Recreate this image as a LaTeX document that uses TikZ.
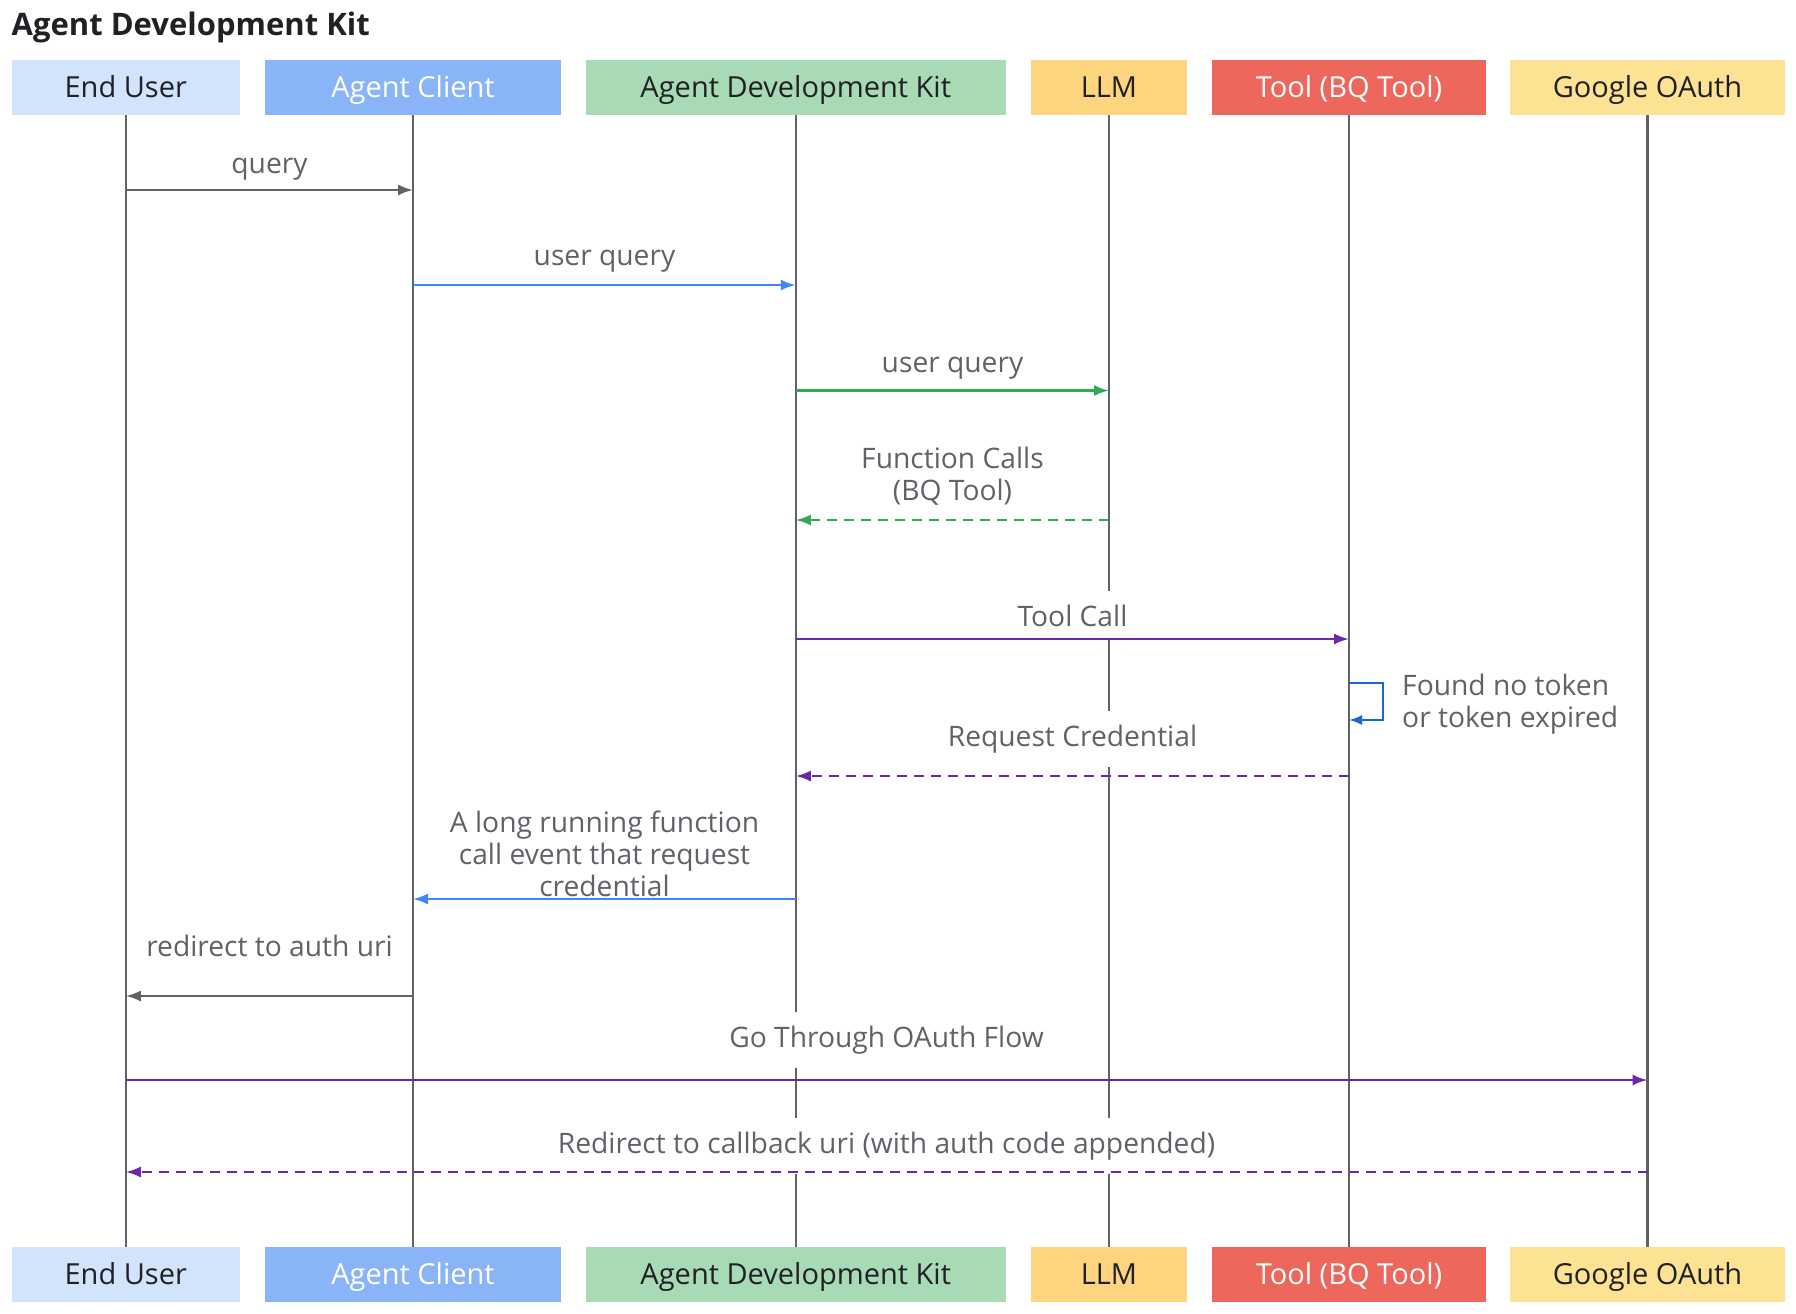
\documentclass[tikz,border=0pt]{standalone}
\usepackage{fontspec}
\setmainfont{Open Sans}
\usetikzlibrary{arrows.meta}

\definecolor{euFill}{HTML}{D2E3FC}
\definecolor{acFill}{HTML}{8AB4F8}
\definecolor{adkFill}{HTML}{A8DAB5}
\definecolor{llmFill}{HTML}{FDD57E}
\definecolor{toolFill}{HTML}{EE675C}
\definecolor{oaFill}{HTML}{FDE293}
\definecolor{lineGray}{HTML}{5F6368}
\definecolor{darkText}{HTML}{202124}
\definecolor{msgBlue}{HTML}{4285F4}
\definecolor{loopBlue}{HTML}{1967D2}
\definecolor{msgGreen}{HTML}{34A853}
\definecolor{msgPurple}{HTML}{6D28A8}

\tikzset{
    actor/.style={minimum height=55pt, inner sep=0pt, text height=21pt, text depth=2pt,
        font=\fontsize{29}{32}\selectfont},
    lifeline/.style={lineGray, line width=2.2pt},
    msg/.style={line width=2.3pt, -{Latex[length=15pt,width=11pt]}},
    reply/.style={msg, dash pattern=on 10pt off 7pt},
    lbl/.style={fill=white, anchor=base, inner xsep=4pt, inner ysep=14pt, text=lineGray,
        font=\fontsize{28.2}{32}\selectfont},
    note/.style={inner sep=0pt, align=center, anchor=north, text=lineGray,
        font=\fontsize{28.2}{32}\selectfont},
}

\begin{document}
\begin{tikzpicture}[x=1pt, y=-1pt]

    \path[fill=white, use as bounding box] (0,0) rectangle (1796,1314);

    % Title
    \node[anchor=base west, inner sep=0pt, text=darkText, font=\bfseries\fontsize{31}{36}\selectfont]
        (title) at (11.5,36) {Agent Development Kit};

    % Participants, top and bottom, with lifelines
    \foreach \id/\cx/\w/\fc/\tc/\txt in {
        eu/125.75/228.5/euFill/darkText/End User,
        ac/413/296/acFill/white/Agent Client,
        adk/795.75/420.5/adkFill/darkText/Agent Development Kit,
        llm/1109/156/llmFill/darkText/LLM,
        tool/1349/274/toolFill/white/Tool (BQ Tool),
        oa/1647.5/275/oaFill/darkText/Google OAuth} {
        \node[actor, fill=\fc, text=\tc, minimum width=\w pt] (\id-top) at (\cx,87.5) {\txt};
        \node[actor, fill=\fc, text=\tc, minimum width=\w pt] (\id-bot) at (\cx,1274.5) {\txt};
        \draw[lifeline] (\id-top.south) -- (\id-bot.north);
    }

    % Message rows
    \coordinate (m1) at (0,190);
    \coordinate (m2) at (0,285);
    \coordinate (m3) at (0,390.5);
    \coordinate (m4) at (0,520);
    \coordinate (m5) at (0,639);
    \coordinate (m6) at (0,776);
    \coordinate (m7) at (0,899);
    \coordinate (m8) at (0,996);
    \coordinate (m9) at (0,1080);
    \coordinate (m10) at (0,1172);

    % query
    \node[lbl] (l-query) at (269.5,173) {query};
    \draw[msg, lineGray] (eu-top |- m1) -- (ac-top |- m1);

    % user query to the kit
    \node[lbl] (l-uq1) at (604.5,265) {user query};
    \draw[msg, msgBlue] (ac-top |- m2) -- (adk-top |- m2);

    % user query to the LLM
    \node[lbl] (l-uq2) at (952.5,372) {user query};
    \draw[msg, msgGreen] (adk-top |- m3) -- (llm-top |- m3);

    % function calls back
    \node[note] (l-fc) at (952.5,447) {Function Calls\\(BQ Tool)};
    \draw[reply, msgGreen] (llm-top |- m4) -- (adk-top |- m4);

    % tool call
    \node[lbl] (l-tc) at (1072.5,626) {Tool Call};
    \draw[msg, msgPurple] (adk-top |- m5) -- (tool-top |- m5);

    % self check on the tool
    \coordinate (loopA) at (1383,683);
    \coordinate (loopB) at (1383,720);
    \draw[msg, loopBlue, -{Latex[length=13pt,width=10pt]}]
        (tool-top |- loopA) -- (loopA) -- (loopB) -- (tool-top |- loopB);
    \node[note, align=left, anchor=north west] (l-loop) at (1402,674)
        {Found no token\\or token expired};

    % request credential
    \node[lbl] (l-rc) at (1072.5,746) {Request Credential};
    \draw[reply, msgPurple] (tool-top |- m6) -- (adk-top |- m6);

    % long running function call
    \node[note] (l-lr) at (604.5,811) {A long running function\\call event that request\\credential};
    \draw[msg, msgBlue] (adk-top |- m7) -- (ac-top |- m7);

    % redirect to auth uri
    \node[lbl] (l-auth) at (269.5,956) {redirect to auth uri};
    \draw[msg, lineGray] (ac-top |- m8) -- (eu-top |- m8);

    % OAuth flow
    \node[lbl] (l-flow) at (886.5,1047) {Go Through OAuth Flow};
    \draw[msg, msgPurple] (eu-top |- m9) -- (oa-top |- m9);

    % callback
    \node[lbl] (l-cb) at (886.5,1153) {Redirect to callback uri (with auth code appended)};
    \draw[reply, msgPurple] (oa-top |- m10) -- (eu-top |- m10);

\end{tikzpicture}
\end{document}
